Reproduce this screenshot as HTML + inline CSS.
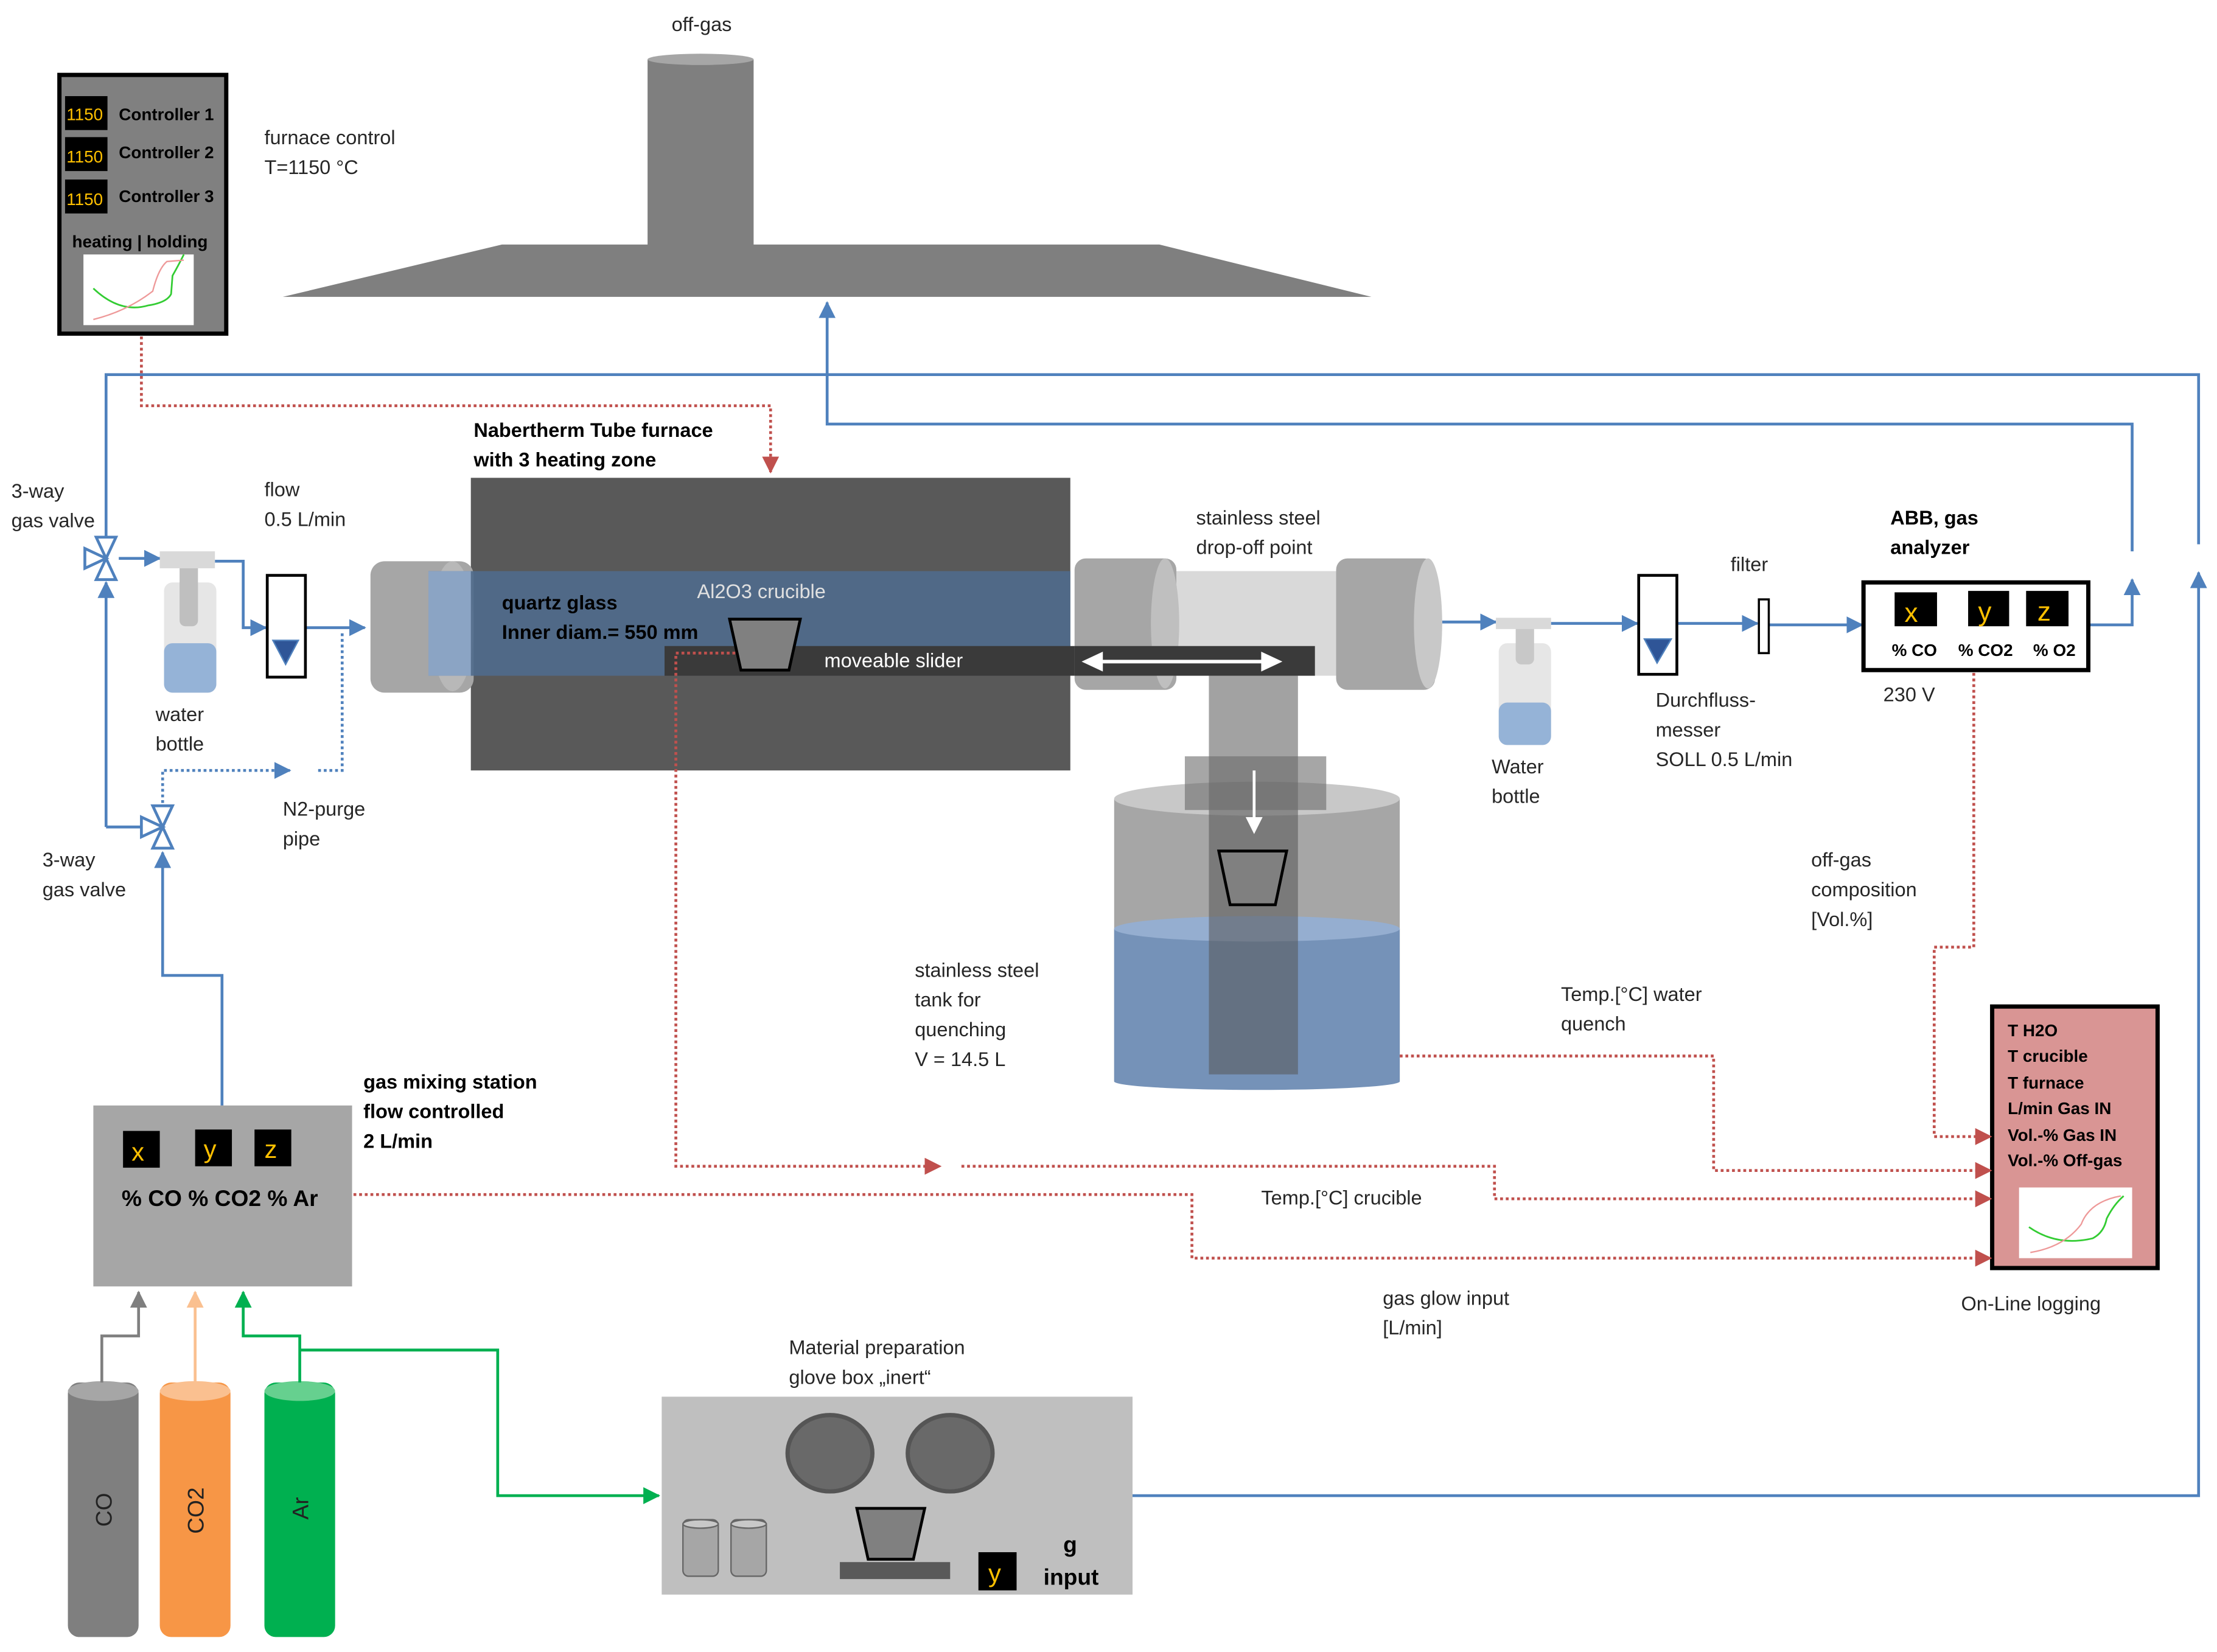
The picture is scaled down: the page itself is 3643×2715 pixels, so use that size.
<!DOCTYPE html>
<html><head><meta charset="utf-8"><style>
html,body{margin:0;padding:0;background:#fff}
svg{display:block}
text{font-family:"Liberation Sans",sans-serif;font-size:14px;fill:#262626}
.b{font-weight:bold;fill:#000}
</style></head><body>
<svg width="3643" height="2715" viewBox="0 0 1568 1168.6" xmlns="http://www.w3.org/2000/svg">
<defs>
<marker id="ab" markerWidth="8" markerHeight="8" refX="7" refY="4" orient="auto" markerUnits="userSpaceOnUse"><path d="M0,0 L8,4 L0,8z" fill="#4f81bd"/></marker>
<marker id="ar" markerWidth="12" markerHeight="12" refX="11" refY="6" orient="auto" markerUnits="userSpaceOnUse"><path d="M0,0 L12,6 L0,12z" fill="#c0504d"/></marker>
<marker id="abl" markerWidth="12" markerHeight="12" refX="11" refY="6" orient="auto" markerUnits="userSpaceOnUse"><path d="M0,0 L12,6 L0,12z" fill="#4f81bd"/></marker>
<marker id="ag" markerWidth="12" markerHeight="12" refX="11" refY="6" orient="auto" markerUnits="userSpaceOnUse"><path d="M0,0 L12,6 L0,12z" fill="#00b050"/></marker>
<marker id="agr" markerWidth="12" markerHeight="12" refX="11" refY="6" orient="auto" markerUnits="userSpaceOnUse"><path d="M0,0 L12,6 L0,12z" fill="#7f7f7f"/></marker>
<marker id="ao" markerWidth="12" markerHeight="12" refX="11" refY="6" orient="auto" markerUnits="userSpaceOnUse"><path d="M0,0 L12,6 L0,12z" fill="#fac090"/></marker>
</defs>

<!-- hood -->
<text x="475" y="22">off-gas</text>
<rect x="458" y="42" width="75" height="133" fill="#7f7f7f"/>
<ellipse cx="495.5" cy="42" rx="37.5" ry="4" fill="#a6a6a6"/>
<polygon points="355,173 820,173 970,210 200,210" fill="#7f7f7f"/>

<!-- controller -->
<rect x="42" y="53" width="118" height="183" fill="#808080" stroke="#000" stroke-width="3"/>
<rect x="46" y="68" width="30" height="24" fill="#000"/><text x="47" y="85" style="font-size:12px;fill:#ffc000">1150</text>
<rect x="46" y="97" width="30" height="24" fill="#000"/><text x="47" y="115" style="font-size:12px;fill:#ffc000">1150</text>
<rect x="46" y="127" width="30" height="24" fill="#000"/><text x="47" y="145" style="font-size:12px;fill:#ffc000">1150</text>
<text x="84" y="85" class="b" style="font-size:12px">Controller 1</text>
<text x="84" y="112" class="b" style="font-size:12px">Controller 2</text>
<text x="84" y="143" class="b" style="font-size:12px">Controller 3</text>
<text x="51" y="175" class="b" style="font-size:12px">heating | holding</text>
<rect x="59" y="180" width="78" height="50" fill="#fff"/>
<path d="M66,204 Q85,222 105,216 Q118,214 121,208 L122,195 Q126,188 130,180" stroke="#3c3" fill="none" stroke-width="1.2"/>
<path d="M66,226 Q90,220 108,206 Q112,190 118,185 L130,184" stroke="#e99" fill="none" stroke-width="1"/>
<text x="187" y="102">furnace control</text>
<text x="187" y="123">T=1150 °C</text>

<!-- blue main lines -->
<g stroke="#4f81bd" stroke-width="2" fill="none">
<polyline points="75,380 75,265 1555,265 1555,385"/>
<line x1="585" y1="265" x2="585" y2="214" marker-end="url(#abl)"/>
<polyline points="585,265 585,300 1508,300 1508,390"/>
<polyline points="1478,442 1508,442 1508,410" marker-end="url(#abl)"/>
<polyline points="801,1058 1555,1058 1555,405" marker-end="url(#abl)"/>
<line x1="75" y1="585" x2="75" y2="412" marker-end="url(#abl)"/>
<line x1="75" y1="585" x2="105" y2="585"/>
<line x1="84" y1="395" x2="113" y2="395" marker-end="url(#abl)"/>
<polyline points="152,397 172,397 172,444 188,444" marker-end="url(#abl)"/>
<line x1="216" y1="444" x2="258" y2="444" marker-end="url(#abl)"/>
<polyline points="157,782 157,690 115,690 115,603" marker-end="url(#abl)"/>
<line x1="1020" y1="440" x2="1058" y2="440" marker-end="url(#abl)"/>
<line x1="1097" y1="441" x2="1158" y2="441" marker-end="url(#abl)"/>
<line x1="1186" y1="441" x2="1243" y2="441" marker-end="url(#abl)"/>
<line x1="1251" y1="442" x2="1317" y2="442" marker-end="url(#abl)"/>
<line x1="672" y1="1111" x2="690" y2="1111" marker-end="url(#abl)"/>
</g>
<g stroke="#4f81bd" stroke-width="2" fill="none" stroke-dasharray="2,2">
<polyline points="115,576 115,545 205,545" marker-end="url(#abl)"/>
<polyline points="225,545 242,545 242,446"/>
</g>
<!-- valves -->
<g stroke="#4f81bd" stroke-width="2" fill="#fff">
<polygon points="68,380 82,380 75,395"/><polygon points="68,410 82,410 75,395"/><polygon points="60,388 60,402 75,395"/>
<polygon points="108,570 122,570 115,585"/><polygon points="108,600 122,600 115,585"/><polygon points="100,578 100,592 115,585"/>
</g>

<!-- water bottle 1 -->
<rect x="116" y="412" width="37" height="78" rx="6" fill="#e6e6e6"/>
<rect x="116" y="455" width="37" height="35" rx="6" fill="#95b3d7"/>
<rect x="127" y="398" width="13" height="45" rx="4" fill="#bfbfbf"/>
<rect x="113" y="390" width="39" height="12" fill="#d9d9d9"/>
<text x="110" y="510">water</text><text x="110" y="531">bottle</text>
<!-- flowmeter 1 -->
<rect x="189" y="407" width="27" height="72" fill="#fff" stroke="#000" stroke-width="2"/>
<polygon points="193,453 211,453 202,470" fill="#2f5597" stroke="#4f81bd"/>
<text x="187" y="351">flow</text><text x="187" y="372">0.5 L/min</text>
<text x="8" y="352">3-way</text><text x="8" y="373">gas valve</text>
<text x="30" y="613">3-way</text><text x="30" y="634">gas valve</text>
<text x="200" y="577">N2-purge</text><text x="200" y="598">pipe</text>

<!-- furnace -->
<text x="335" y="309" class="b">Nabertherm Tube furnace</text>
<text x="335" y="330" class="b">with 3 heating zone</text>
<rect x="333" y="338" width="424" height="207" fill="#595959"/>
<rect x="262" y="397" width="73" height="93" rx="10" fill="#a6a6a6"/>
<ellipse cx="320" cy="443" rx="15" ry="46" fill="#b8b8b8"/>
<rect x="303" y="404" width="454" height="74" fill="#4f6a8c" opacity="0.9"/>
<rect x="303" y="404" width="30" height="74" fill="#8ba4c4"/>
<rect x="470" y="457" width="460" height="21" fill="#3a3a3a"/>
<rect x="303" y="457" width="167" height="21" fill="#4f6a8c" opacity="0"/>
<polygon points="516,438 566,438 558,474 524,474" fill="#808080" stroke="#000" stroke-width="2"/>
<text x="493" y="423" style="fill:#e0e0e0">Al2O3 crucible</text>
<text x="355" y="431" class="b">quartz glass</text>
<text x="355" y="452" class="b">Inner diam.= 550 mm</text>
<text x="583" y="472" style="fill:#fff">moveable slider</text>

<!-- drop-off -->
<rect x="832" y="404" width="118" height="74" fill="#d9d9d9"/>
<rect x="760" y="395" width="72" height="93" rx="8" fill="#a6a6a6"/>
<ellipse cx="824" cy="441" rx="10" ry="46" fill="#bfbfbf"/>
<rect x="945" y="395" width="70" height="93" rx="8" fill="#a6a6a6"/>
<ellipse cx="1010" cy="441" rx="10" ry="46" fill="#c8c8c8"/>
<rect x="760" y="457" width="170" height="21" fill="#3a3a3a"/>
<g stroke="#fff" stroke-width="2.5"><line x1="775" y1="468" x2="895" y2="468"/></g>
<polygon points="765,468 780,461 780,475" fill="#fff"/><polygon points="907,468 892,461 892,475" fill="#fff"/>
<text x="846" y="371">stainless steel</text><text x="846" y="392">drop-off point</text>

<!-- tank -->
<rect x="788" y="565" width="202" height="200" fill="#a6a6a6"/>
<ellipse cx="889" cy="565" rx="101" ry="12" fill="#c8c8c8"/>
<rect x="788" y="657" width="202" height="108" fill="#7592b8"/>
<ellipse cx="889" cy="657" rx="101" ry="9" fill="#95aed0"/>
<ellipse cx="889" cy="765" rx="101" ry="6" fill="#7592b8"/>
<rect x="855" y="478" width="63" height="282" fill="#555" opacity="0.55"/>
<rect x="838" y="535" width="100" height="38" fill="#6a6a6a" opacity="0.6"/>
<line x1="887" y1="545" x2="887" y2="580" stroke="#fff" stroke-width="2"/>
<polygon points="881,578 893,578 887,590" fill="#fff"/>
<polygon points="862,602 910,602 902,640 870,640" fill="#808080" stroke="#000" stroke-width="2"/>
<text x="647" y="691">stainless steel</text><text x="647" y="712">tank for</text><text x="647" y="733">quenching</text><text x="647" y="754">V = 14.5 L</text>

<!-- water bottle 2 -->
<rect x="1060" y="455" width="37" height="72" rx="6" fill="#e6e6e6"/>
<rect x="1060" y="497" width="37" height="30" rx="6" fill="#95b3d7"/>
<rect x="1072" y="440" width="13" height="30" rx="4" fill="#c8c8c8"/>
<rect x="1058" y="437" width="39" height="8" fill="#d9d9d9"/>
<text x="1055" y="547">Water</text><text x="1055" y="568">bottle</text>
<rect x="1159" y="407" width="27" height="70" fill="#fff" stroke="#000" stroke-width="2"/>
<polygon points="1163,452 1182,452 1172,469" fill="#2f5597" stroke="#4f81bd"/>
<rect x="1244" y="424" width="7" height="38" fill="#fff" stroke="#000" stroke-width="1.5"/>
<text x="1224" y="404">filter</text>
<text x="1171" y="500">Durchfluss-</text><text x="1171" y="521">messer</text><text x="1171" y="542">SOLL 0.5 L/min</text>

<!-- analyzer -->
<text x="1337" y="371" class="b">ABB, gas</text><text x="1337" y="392" class="b">analyzer</text>
<rect x="1318" y="412" width="159" height="62" fill="#fff" stroke="#000" stroke-width="3"/>
<rect x="1340" y="419" width="30" height="24" fill="#000"/><text x="1347" y="440" style="font-size:19px;fill:#ffc000">x</text>
<rect x="1392" y="418" width="29" height="25" fill="#000"/><text x="1399" y="439" style="font-size:19px;fill:#ffc000">y</text>
<rect x="1433" y="418" width="30" height="25" fill="#000"/><text x="1441" y="439" style="font-size:19px;fill:#ffc000">z</text>
<text x="1338" y="464" class="b" style="font-size:12px">% CO</text>
<text x="1385" y="464" class="b" style="font-size:12px">% CO2</text>
<text x="1438" y="464" class="b" style="font-size:12px">% O2</text>
<text x="1332" y="496">230 V</text>
<text x="1281" y="613">off-gas</text><text x="1281" y="634">composition</text><text x="1281" y="655">[Vol.%]</text>
<text x="1104" y="708">Temp.[°C] water</text><text x="1104" y="729">quench</text>

<!-- logging -->
<rect x="1409" y="712" width="117" height="185" fill="#d99594" stroke="#000" stroke-width="3"/>
<g class="b" style="font-size:12px">
<text x="1420" y="733" class="b" style="font-size:12px">T H2O</text>
<text x="1420" y="751" class="b" style="font-size:12px">T crucible</text>
<text x="1420" y="770" class="b" style="font-size:12px">T furnace</text>
<text x="1420" y="788" class="b" style="font-size:12px">L/min Gas IN</text>
<text x="1420" y="807" class="b" style="font-size:12px">Vol.-% Gas IN</text>
<text x="1420" y="825" class="b" style="font-size:12px">Vol.-% Off-gas</text>
</g>
<rect x="1428" y="840" width="80" height="50" fill="#fff"/>
<path d="M1435,868 Q1455,882 1480,876 Q1488,872 1490,862 Q1495,852 1502,846" stroke="#3c3" fill="none" stroke-width="1.2"/>
<path d="M1436,886 Q1460,882 1472,866 Q1478,850 1500,846" stroke="#e99" fill="none"/>
<text x="1387" y="927">On-Line logging</text>

<!-- red dotted -->
<g stroke="#c0504d" stroke-width="2" fill="none" stroke-dasharray="2,2">
<polyline points="100,238 100,287 545,287 545,334" marker-end="url(#ar)"/>
<polyline points="520,462 478,462 478,825 665,825" marker-end="url(#ar)"/>
<polyline points="680,825 1057,825 1057,848 1408,848" marker-end="url(#ar)"/>
<polyline points="990,747 1212,747 1212,828 1408,828" marker-end="url(#ar)"/>
<polyline points="1396,476 1396,670 1368,670 1368,804 1408,804" marker-end="url(#ar)"/>
<polyline points="250,845 843,845 843,890 1408,890" marker-end="url(#ar)"/>
</g>
<text x="892" y="852">Temp.[°C] crucible</text>
<text x="978" y="923">gas glow input</text><text x="978" y="944">[L/min]</text>

<!-- mixing -->
<rect x="66" y="782" width="183" height="128" fill="#a6a6a6"/>
<rect x="87" y="800" width="26" height="26" fill="#000"/><text x="93" y="821" style="font-size:18px;fill:#ffc000">x</text>
<rect x="138" y="799" width="26" height="26" fill="#000"/><text x="144" y="819" style="font-size:18px;fill:#ffc000">y</text>
<rect x="180" y="799" width="26" height="26" fill="#000"/><text x="187" y="819" style="font-size:18px;fill:#ffc000">z</text>
<text x="86" y="853" class="b" style="font-size:16px">% CO % CO2 % Ar</text>
<text x="257" y="770" class="b">gas mixing station</text>
<text x="257" y="791" class="b">flow controlled</text>
<text x="257" y="812" class="b">2 L/min</text>

<!-- cylinders -->
<rect x="48" y="978" width="50" height="180" rx="8" fill="#7f7f7f"/><ellipse cx="73" cy="984" rx="25" ry="7" fill="#a6a6a6"/>
<rect x="113" y="978" width="50" height="180" rx="8" fill="#f79646"/><ellipse cx="138" cy="984" rx="25" ry="7" fill="#fac090"/>
<rect x="187" y="978" width="50" height="180" rx="8" fill="#00b050"/><ellipse cx="212" cy="984" rx="25" ry="7" fill="#66d08f"/>
<text transform="translate(79,1080) rotate(-90)" style="font-size:16px;fill:#222">CO</text>
<text transform="translate(144,1085) rotate(-90)" style="font-size:16px;fill:#222">CO2</text>
<text transform="translate(218,1075) rotate(-90)" style="font-size:16px;fill:#222">Ar</text>
<polyline points="72,978 72,945 98,945 98,914" stroke="#7f7f7f" stroke-width="2" fill="none" marker-end="url(#agr)"/>
<line x1="138" y1="978" x2="138" y2="914" stroke="#fac090" stroke-width="2" marker-end="url(#ao)"/>
<polyline points="212,978 212,945 172,945 172,914" stroke="#00b050" stroke-width="2" fill="none" marker-end="url(#ag)"/>
<polyline points="212,955 352,955 352,1058 466,1058" stroke="#00b050" stroke-width="2" fill="none" marker-end="url(#ag)"/>

<!-- glove box -->
<text x="558" y="958">Material preparation</text><text x="558" y="979">glove box „inert“</text>
<rect x="468" y="988" width="333" height="140" fill="#bfbfbf"/>
<ellipse cx="587" cy="1028" rx="30" ry="27" fill="#696969" stroke="#555" stroke-width="3"/>
<ellipse cx="672" cy="1028" rx="30" ry="27" fill="#696969" stroke="#555" stroke-width="3"/>
<rect x="483" y="1075" width="25" height="40" rx="4" fill="#a6a6a6" stroke="#666"/>
<ellipse cx="495.5" cy="1078" rx="12.5" ry="3" fill="#c8c8c8" stroke="#666"/>
<rect x="517" y="1075" width="25" height="40" rx="4" fill="#a6a6a6" stroke="#666"/>
<ellipse cx="529.5" cy="1078" rx="12.5" ry="3" fill="#c8c8c8" stroke="#666"/>
<polygon points="606,1067 654,1067 646,1103 614,1103" fill="#808080" stroke="#000" stroke-width="2"/>
<rect x="594" y="1105" width="78" height="12" fill="#595959"/>
<rect x="692" y="1098" width="27" height="27" fill="#000"/><text x="699" y="1119" style="font-size:18px;fill:#ffc000">y</text>
<text x="752" y="1098" class="b" style="font-size:16px">g</text>
<text x="738" y="1121" class="b" style="font-size:16px">input</text>
</svg>
</body></html>
